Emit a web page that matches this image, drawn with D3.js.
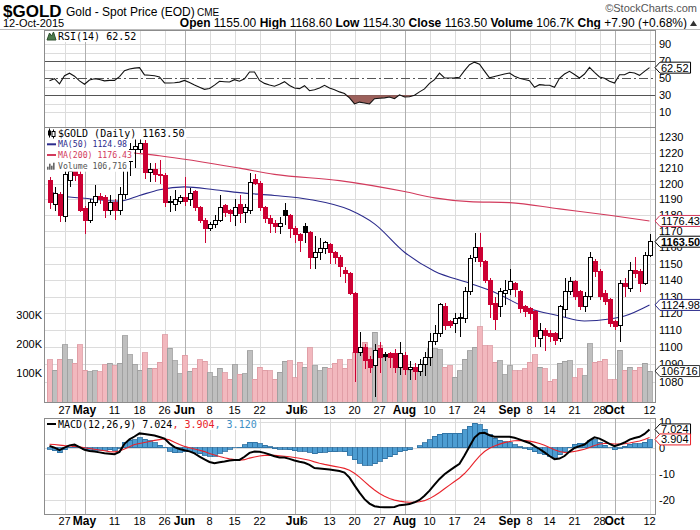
<!DOCTYPE html>
<html><head><meta charset="utf-8">
<script src="https://cdn.jsdelivr.net/npm/d3@7"></script>
<style>
body{margin:0;background:#fff}
svg{display:block}
text{font-family:"Liberation Sans",Arial,sans-serif}
.mono{font-family:"DejaVu Sans Mono",monospace}
</style>
</head><body><svg id="c" width="700" height="530"></svg>
<script>
// ---------------- DATA ----------------
const startDate = "2015-04-22";
const holidays = ["2015-05-25","2015-07-03","2015-09-07"];
const barCount = 121;

const opens = [1202,1187,1193,1179,1202,1208,1206,1184,1177,1188,
1192,1191,1183,1188,1183,1193,1214,1222,1222,1226,
1207,1209,1206,1205,1188,1187,1189,1191,1190,1195,
1185,1177,1172,1174,1177,1186,1183,1180,1187,1182,
1183,1203,1200,1185,1178,1175,1173,1183,1180,1172,
1168,1173,1169,1154,1157,1159,1162,1157,1154,1146,
1144,1132,1097,1100,1093,1089,1099,1095.5,1096,1096,
1088,1095,1087,1088,1086,1090,1094,1103,1108,1124,
1115,1114,1117,1117,1133,1153.5,1160,1151,1140,1126,
1124,1132,1134,1138,1133,1124,1123,1121,1105,1110,
1108,1108,1105,1122,1133,1139,1133,1124,1130,1151,
1145,1132,1128,1115,1113,1138,1135,1146,1145,1138,
1155];
const highs = [1204,1198,1195,1210,1213,1210,1208,1186,1190,1199,
1194,1193,1193,1190,1198,1220,1226,1230,1229,1228,
1213,1213,1215,1207,1192,1196,1193,1204,1197,1196,
1186,1178,1176,1180,1193,1187,1184,1190,1193,1187,
1207,1206,1202,1186,1180,1177,1179,1188,1181,1173,
1169,1175,1170,1167,1166,1164,1163,1158,1155,1148,
1145,1133,1109,1102,1095,1102,1103,1097,1097,1099,
1103,1097,1092,1091,1093,1097,1108,1113,1126,1126,
1116,1120,1120,1136,1155,1169,1169,1152,1141,1130,
1135,1140,1147,1139,1134,1125,1124,1122,1114,1111,
1110,1109,1125,1141,1142,1140,1134,1133,1157,1153,
1147,1134,1129,1116,1140,1141,1151,1154,1147,1157,
1168.6];
const lows = [1184,1183,1176,1176,1198,1202,1182,1168,1175,1186,
1187,1178,1180,1177,1180,1190,1205,1210,1220,1203,
1201,1201,1200,1185,1182,1183,1187,1186,1186,1183,
1175,1163,1170,1172,1176,1179,1176,1173,1175,1175,
1181,1199,1183,1175,1169,1169,1168,1174,1166,1163,
1157,1163,1147,1147,1152,1156,1150,1150,1142,1138,
1131,1080,1095,1087,1085,1071,1085,1092,1088,1085,
1084,1084,1081,1081,1083,1083,1089,1101,1106,1110,
1111,1108,1106,1114,1131,1151,1148,1138,1117,1110,
1118,1125,1131,1130,1120,1118,1116,1100,1100,1098,
1103,1101,1103,1118,1131,1128,1122,1121,1128,1142,
1128,1125,1112,1110,1103,1130,1133,1141,1133,1137,
1154.3];
const closes = [1188,1194,1180,1206,1208,1205,1183,1177,1188,1192,
1190,1183,1188,1183,1193,1213,1222,1224,1226,1207,
1209,1206,1205,1188,1189,1190,1191,1189,1194,1185,
1177,1172,1174,1177,1185,1182,1181,1185,1181,1185,
1201,1200,1185,1178,1175,1173,1175,1180,1172,1168,
1164,1169,1154,1157,1159,1163,1157,1154,1148,1144,
1132,1097,1100,1092,1088,1098,1094,1094.5,1094,1088,
1096,1087,1088,1086,1090,1094,1103,1108,1125,1113,
1112.5,1117,1117.5,1133,1153,1160,1151,1140,1125,1116,
1133,1133.5,1139,1134,1123,1121,1120,1106,1110,1107,
1106,1104,1124,1133,1139,1130,1124,1130,1153.5,1145,
1130,1127,1114,1112,1138,1136,1146,1144,1138,1155,
1163.5];
// volume, thousands
const volumes = [145,110,148,197,145,134,197,110,104,108,
104,128,134,125,134,228,163,128,110,169,
117,117,137,231,186,142,97,162,106,117,
145,140,100,87,117,100,79,128,95,97,
177,79,119,110,108,79,102,140,142,83,
137,119,187,125,108,119,117,133,145,117,
148,170,171,206,183,240,195,154,156,142,
148,130,108,108,119,142,183,183,180,120,
125,85,108,148,177,188,260,194,194,137,
142,94,125,108,108,114,137,163,119,114,
71,76,133,140,142,83,114,91,200,137,
140,148,76,76,179,110,119,110,119,133,
106.716];
const rsi = [47,49.5,43.5,53,56,52.5,47,43,48,49.5,
48.5,47,47.5,47.5,52,59,61,62,62.5,54,
53.5,53,51.5,44.5,44.5,44.8,45.5,47.5,45,42,
39.5,37,38,42,46.5,46,45.6,48.4,46.5,49.5,
57.4,57.4,47.5,44,42,40.6,43,46,41.5,38.5,
37.8,41.3,35.4,36.5,38.5,41.8,38.6,36.5,34,32,
27,19.8,22,21,19.8,26,26.5,27,28,26,
30.5,28,28.2,30,34,37.5,44,48.4,56,50.5,
50.4,50.7,51.2,59,66,69,66.5,58.5,50.5,52,
53.5,55,56.2,52.5,50,48.5,47.2,39.5,42.5,42,
41.8,39.4,50,55,58.2,54.5,50.4,55,62.9,57,
51.5,50,46.5,44.5,54.2,54.2,57.1,56.2,53.5,58.2,
62.52];
const macd = [0.7,0,-0.9,0,0.9,1.2,0.2,-0.8,-1.3,-1.5,
-1.8,-2.1,-2.3,-2.5,-1.6,1.5,3.2,4.3,5.5,5.3,
5.0,4.7,4.1,3.5,1.6,0.2,-0.5,-1.0,-1.4,-2.2,
-3.4,-4.5,-5.5,-6.0,-5.6,-5.3,-4.9,-4.7,-4.7,-3.5,
-2.0,-1.5,-1.6,-2.0,-2.6,-3.3,-3.8,-3.8,-4.3,-4.9,
-5.4,-5.8,-6.6,-7.8,-8.0,-8.2,-8.4,-8.7,-9.0,-9.6,
-11.5,-14.5,-17.3,-19.8,-21.5,-22.5,-22.8,-22.9,-22.9,-22.8,
-22.1,-21.9,-21.7,-21.0,-20.1,-18.5,-16.5,-14.2,-12.0,-10.2,
-8.8,-7.5,-6.2,-3.0,0.5,3.9,5.6,5.7,4.8,4.2,
4.2,4.2,4.2,3.8,3.2,2.5,1.8,0.6,-0.5,-1.8,
-3.2,-4.4,-4.2,-3.2,-1.5,-0.1,0.6,1.2,2.8,4.0,
3.5,2.5,1.5,0.6,1.2,2.0,3.1,3.7,4.2,5.3,
7.024];
const signal = [1.3,1.2,1.0,0.8,0.65,0.5,0.3,0.0,-0.3,-0.6,
-0.9,-1.2,-1.5,-1.6,-1.3,-0.5,0.4,1.2,1.6,2.0,
2.4,2.8,3.1,3.4,3.0,2.1,1.2,0.5,0.0,-0.5,
-1.0,-1.5,-2.2,-2.8,-3.4,-3.9,-4.3,-4.6,-4.8,-4.6,
-4.0,-3.6,-3.2,-2.96,-2.89,-2.97,-3.14,-3.27,-3.48,-3.76,
-4.09,-4.43,-4.86,-5.45,-5.96,-6.41,-6.81,-7.19,-7.55,-7.96,
-8.67,-9.84,-11.33,-13.02,-14.72,-16.28,-17.58,-18.64,-19.5,-20.16,
-20.55,-20.82,-21.0,-21.0,-20.82,-20.36,-19.58,-18.51,-17.21,-15.8,
-14.4,-13.02,-11.66,-9.93,-7.84,-5.49,-3.27,-1.47,-0.22,0.66,
1.37,1.94,2.39,2.67,2.78,2.72,2.54,2.15,1.62,0.94,
0.11,-0.79,-1.47,-1.82,-1.76,-1.43,-1.02,-0.58,0.1,0.88,
1.4,1.62,1.6,1.4,1.36,1.49,1.81,2.19,2.59,3.13,
3.904];
const ma50Idx = [0,2,7,14,18,22,27,33,38,45,52,60,65,71,77,84,89,95,102,107,112,115,120];
const ma50Val = [1195.6,1192.5,1190.7,1188.9,1192.5,1196.2,1198,1196.2,1194.3,1192.5,1190,1183.4,1174.6,1157,1145.4,1138.1,1132.6,1123.8,1118.4,1115.4,1116.6,1118.4,1124.98];
const ma200Idx = [0,17,22,38,45,58,71,77,84,92,102,112,120];
const ma200Val = [1226,1219.8,1218,1210,1206,1202,1195,1191,1188.6,1188,1184,1180,1176.43];

const priceTicks = [1080,1090,1100,1110,1120,1130,1140,1150,1160,1170,1180,1190,1200,1210,1220,1230];
const volTicks = [100,200,300];
const volTickLabels = ["100K","200K","300K"];
const rsiGrid = [10,20,40,60,80,90];
const rsiTicks = [10,30,50,70,90];
const macdTicks = [10,0,-10,-20];
const dateTicks = ["2015-04-27","2015-05-01","2015-05-11","2015-05-18","2015-05-26","2015-06-01","2015-06-08","2015-06-15","2015-06-22","2015-07-01","2015-07-06","2015-07-13","2015-07-20","2015-07-27","2015-08-03","2015-08-10","2015-08-17","2015-08-24","2015-09-01","2015-09-08","2015-09-14","2015-09-21","2015-09-28","2015-10-01","2015-10-12"];
const dateTickLabels = ["27","May","11","18","26","Jun","8","15","22","Jul","6","13","20","27","Aug","10","17","24","Sep","8","14","21","28","Oct","12"];
const monthTicks = ["May","Jun","Jul","Aug","Sep","Oct"];

// ---------------- LAYOUT ----------------
const dates = [];
{ let d = new Date(startDate+"T00:00:00Z");
  while (dates.length < barCount) {
    const s = d.toISOString().slice(0,10), wd = d.getUTCDay();
    if (wd!==0 && wd!==6 && !holidays.includes(s)) dates.push(s);
    d.setUTCDate(d.getUTCDate()+1);
  } }

const svg = d3.select("#c");
const PL=44, PR=655;
const rsiTop=30, rsiBot=127, mainTop=127, mainBot=402, macdTop=418, macdBot=514;

const x = d3.scaleBand().domain(dates).range([47,652]);
const cx = i => x(dates[i]) + x.bandwidth()/2;
const cxd = d => x(d) + x.bandwidth()/2;
const yP = d3.scaleLog().domain([1068.3,1236.8]).range([mainBot,mainTop]);
const yV = d3.scaleLinear().domain([0,948]).range([mainBot,mainTop]);
const yR = d3.scaleLinear().domain([-7.3,106.8]).range([rsiBot,rsiTop]);
const yM = d3.scaleLinear().domain([-25.5,11.42]).range([macdBot,macdTop]);

const RED="#cc0033", MA200C="#d23a5c", MA50C="#2b2b8c";
const idx = d3.range(barCount);

const defs = svg.append("defs");
[["cR",rsiTop,rsiBot],["cM",mainTop,mainBot],["cD",macdTop,macdBot]].forEach(([id,t,b])=>{
  defs.append("clipPath").attr("id",id).append("rect").attr("x",PL).attr("y",t).attr("width",PR-PL).attr("height",b-t);
});

// ---------- gridlines ----------
function vgrid(t,b){
  const g = svg.append("g").attr("shape-rendering","crispEdges");
  dateTicks.forEach((d,k)=>{
    if (dateTickLabels[k]==="6") return;
    const m = monthTicks.includes(dateTickLabels[k]);
    g.append("line").attr("x1",Math.round(cxd(d))+0.5).attr("x2",Math.round(cxd(d))+0.5)
      .attr("y1",t).attr("y2",b).attr("stroke", m?"#b0b0b0":"#dcdcdc");
  });
}
function hgrid(vals,scale,color){
  const g = svg.append("g").attr("shape-rendering","crispEdges");
  vals.forEach(v=>g.append("line").attr("x1",PL).attr("x2",PR)
    .attr("y1",Math.round(scale(v))+0.5).attr("y2",Math.round(scale(v))+0.5).attr("stroke",color||"#dcdcdc"));
}
hgrid(rsiGrid,yR);
vgrid(rsiTop,rsiBot);
hgrid([70,30],yR,"#555");
svg.append("line").attr("x1",PL).attr("x2",PR).attr("y1",Math.round(yR(50))+0.5).attr("y2",Math.round(yR(50))+0.5)
  .attr("stroke","#555").attr("stroke-dasharray","9,3,2,3");
hgrid(priceTicks,yP);
vgrid(mainTop,mainBot);
hgrid(macdTicks,yM);
vgrid(macdTop,macdBot);

// ---------- RSI ----------
const gR = svg.append("g").attr("clip-path","url(#cR)");
gR.append("path").datum(idx)
  .attr("d", d3.area().x(i=>cx(i)).y0(yR(30)).y1(i=>yR(Math.min(rsi[i],30))))
  .attr("fill","#9c605b");
gR.append("path").datum(idx)
  .attr("d", d3.line().x(i=>cx(i)).y(i=>yR(rsi[i])))
  .attr("fill","none").attr("stroke","#111").attr("stroke-width",1.1);

// ---------- main: volume ----------
const gM = svg.append("g").attr("clip-path","url(#cM)");
const isRed = i => i>0 ? closes[i] < closes[i-1] : closes[i] < opens[i];
gM.append("g").attr("shape-rendering","crispEdges").selectAll("rect").data(idx).join("rect")
  .attr("x",i=>x(dates[i])).attr("width",x.bandwidth())
  .attr("y",i=>yV(volumes[i])).attr("height",i=>yV(0)-yV(volumes[i]))
  .attr("fill",i=>isRed(i)?"#f2b8be":"#bfbfbf")
  .attr("stroke",i=>isRed(i)?"#dc97a0":"#9a9a9a").attr("stroke-width",0.8);

const maLine = d3.line().curve(d3.curveMonotoneX);
gM.append("path").attr("d", maLine(ma200Idx.map((b,k)=>[cx(b),yP(ma200Val[k])])))
  .attr("fill","none").attr("stroke",MA200C).attr("stroke-width",1.1);
gM.append("path").attr("d", maLine(ma50Idx.map((b,k)=>[cx(b),yP(ma50Val[k])])))
  .attr("fill","none").attr("stroke",MA50C).attr("stroke-width",1.1);

const gC = gM.append("g").attr("shape-rendering","crispEdges");
idx.forEach(i=>{
  const col = isRed(i)?RED:"#000";
  const hollow = closes[i] >= opens[i];
  const xc = Math.round(cx(i));
  gC.append("line").attr("x1",xc+0.5).attr("x2",xc+0.5).attr("y1",yP(highs[i])).attr("y2",yP(lows[i]))
    .attr("stroke",col);
  const top = yP(Math.max(opens[i],closes[i])), bot = yP(Math.min(opens[i],closes[i]));
  gC.append("rect").attr("x",xc-1.5).attr("width",4).attr("y",top).attr("height",Math.max(1,bot-top))
    .attr("fill",hollow?"#fff":col).attr("stroke",col);
});

// ---------- MACD ----------
const gD = svg.append("g").attr("clip-path","url(#cD)");
const hist = idx.map(i=>macd[i]-signal[i]);
gD.append("g").attr("shape-rendering","crispEdges").selectAll("rect").data(idx).join("rect")
  .attr("x",i=>x(dates[i])).attr("width",x.bandwidth())
  .attr("y",i=>Math.min(yM(0),yM(hist[i]))).attr("height",i=>Math.abs(yM(hist[i])-yM(0)))
  .attr("fill","#4d9dd2").attr("stroke","#2a6c9c").attr("stroke-width",0.8);
gD.append("path").datum(idx).attr("d",d3.line().x(i=>cx(i)).y(i=>yM(signal[i])))
  .attr("fill","none").attr("stroke","#e8222a").attr("stroke-width",1.1);
gD.append("path").datum(idx).attr("d",d3.line().x(i=>cx(i)).y(i=>yM(macd[i])))
  .attr("fill","none").attr("stroke","#000").attr("stroke-width",2);

// ---------- frames ----------
const fr = svg.append("g").attr("shape-rendering","crispEdges").attr("fill","none").attr("stroke","#8c8c8c");
fr.append("rect").attr("x",PL+0.5).attr("y",rsiTop+0.5).attr("width",PR-PL).attr("height",rsiBot-rsiTop);
fr.append("rect").attr("x",PL+0.5).attr("y",mainTop+0.5).attr("width",PR-PL).attr("height",mainBot-mainTop);
fr.append("rect").attr("x",PL+0.5).attr("y",macdTop+0.5).attr("width",PR-PL).attr("height",macdBot-macdTop);

// ---------- axis labels ----------
const ax = svg.append("g").attr("font-size",11).attr("fill","#000");
rsiTicks.forEach(v=>ax.append("text").attr("x",659).attr("y",yR(v)+4).text(v));
priceTicks.forEach(v=>ax.append("text").attr("x",659).attr("y",yP(v)+4).text(v));
macdTicks.forEach(v=>ax.append("text").attr("x",659).attr("y",yM(v)+4).text(v));
volTicks.forEach((v,k)=>ax.append("text").attr("x",42).attr("y",yV(v)+4).attr("text-anchor","end").text(volTickLabels[k]));
[414,525].forEach(yy=>{
  dateTicks.forEach((d,k)=>{
    const m = monthTicks.includes(dateTickLabels[k]);
    ax.append("text").attr("x",cxd(d)).attr("y",yy).attr("text-anchor","middle")
      .attr("font-weight",m?"bold":"normal").attr("font-size",m?12:11).text(dateTickLabels[k]);
  });
});

// ---------- value tags ----------
let lastTag = {};
function tag(y, txt, stroke, bold, group){
  if (group && lastTag[group]!==undefined && Math.abs(y-lastTag[group])<10) y = lastTag[group]+10;
  if (group) lastTag[group]=y;
  const g = svg.append("g");
  const t = g.append("text").attr("x",661).attr("y",y+4).attr("font-size",11)
    .attr("font-weight",bold?"bold":"normal").text(txt);
  const w = t.node().getComputedTextLength();
  const r = 661+w+2;
  g.insert("path","text").attr("d",`M655,${y}L660,${y-5.5}H${r}V${y+5.5}H660Z`)
    .attr("fill","#fff").attr("stroke",stroke).attr("stroke-width",1);
}
tag(yR(rsi[barCount-1]), "62.52", "#000", false);
tag(yP(ma200Val[ma200Val.length-1]), "1176.43", MA200C, false);
tag(yP(closes[barCount-1]), "1163.50", "#000", true);
tag(yP(ma50Val[ma50Val.length-1]), "1124.98", MA50C, false);
tag(yV(volumes[barCount-1]), "106716", "#333", false);
tag(yM(macd[barCount-1]), "7.024", "#000", false, "m");
tag(yM(signal[barCount-1]), "3.904", "#e8222a", false, "m");

// ---------- legends ----------
function legendLine(y, parts, icon, fs){
  const g = svg.append("g");
  const bg = g.append("rect").attr("fill","#fff");
  const t = g.append("text").attr("class","mono").attr("x",58).attr("y",y+fs*0.35).attr("font-size",fs);
  parts.forEach(p=>t.append("tspan").attr("fill",p[1]).text(p[0]));
  const w = t.node().getComputedTextLength();
  bg.attr("x",45).attr("y",y-5).attr("width",w+15).attr("height",11);
  icon(g,y);
}
const iconCandle=(g,y)=>{
  g.append("line").attr("x1",49.5).attr("x2",49.5).attr("y1",y-5).attr("y2",y+4).attr("stroke","#000");
  g.append("rect").attr("x",48).attr("y",y-3).attr("width",3).attr("height",5).attr("fill","#000");
  g.append("line").attr("x1",53.5).attr("x2",53.5).attr("y1",y-4).attr("y2",y+5).attr("stroke","#000");
  g.append("rect").attr("x",52).attr("y",y-2).attr("width",3).attr("height",5).attr("fill","#fff").attr("stroke","#000");
};
const iconDash=c=>(g,y)=>g.append("line").attr("x1",47).attr("x2",56).attr("y1",y).attr("y2",y).attr("stroke",c).attr("stroke-width",2);
const iconVol=(g,y)=>[[47,3],[49,6],[51,4],[53,7]].forEach(([xx,h])=>g.append("rect").attr("x",xx).attr("y",y+4-h).attr("width",1.6).attr("height",h).attr("fill","#666"));
const iconRsi=(g,y)=>g.append("path").attr("d",`M47,${y+4}L49.5,${y-3}L51.5,${y}L53.5,${y-4}L56,${y+4}Z`).attr("fill","#4c7a4c").attr("stroke","#2d4f2d");

legendLine(133.5, [["$GOLD (Daily) 1163.50","#000"]], iconCandle, 10);
legendLine(144.3, [["MA(50) 1124.98",MA50C]], iconDash(MA50C), 8.2);
legendLine(155, [["MA(200) 1176.43",MA200C]], iconDash(MA200C), 8.2);
legendLine(165.7, [["Volume 106,716","#555"]], iconVol, 8.2);
legendLine(36, [["RSI(14) 62.52","#000"]], iconRsi, 10);
legendLine(424, [["MACD(12,26,9) 7.024","#000"],[", 3.904","#e8222a"],[", 3.120","#3d8fc4"]], iconDash("#000"), 10);

// ---------- header ----------
const h = svg.append("g").attr("fill","#000");
h.append("text").attr("x",3).attr("y",17).attr("font-size",17).attr("font-weight","bold").text("$GOLD");
h.append("text").attr("x",66).attr("y",16).attr("font-size",12).text("Gold - Spot Price (EOD)");
h.append("text").attr("x",197).attr("y",16).attr("font-size",10).text("CME");
h.append("text").attr("x",697).attr("y",12).attr("font-size",11).attr("text-anchor","end").attr("fill","#555").text("©StockCharts.com");
h.append("text").attr("x",3).attr("y",27).attr("font-size",11).text("12-Oct-2015");
const l2 = h.append("text").attr("x",687).attr("y",27).attr("font-size",12).attr("text-anchor","end");
[["Open",1],[" 1155.00 ",0],["High",1],[" 1168.60 ",0],["Low",1],[" 1154.30 ",0],["Close",1],[" 1163.50 ",0],["Volume",1],[" 106.7K ",0],["Chg",1],[" +7.90 (+0.68%)",0]]
  .forEach(([s,b])=>l2.append("tspan").attr("font-weight",b?"bold":"normal").text(s));
h.append("path").attr("d","M690,26L693.5,20.5L697,26Z").attr("fill","#333");
svg.append("line").attr("x1",0).attr("x2",700).attr("y1",29.5).attr("y2",29.5).attr("stroke","#bbb").attr("shape-rendering","crispEdges");
</script>
</body></html>
